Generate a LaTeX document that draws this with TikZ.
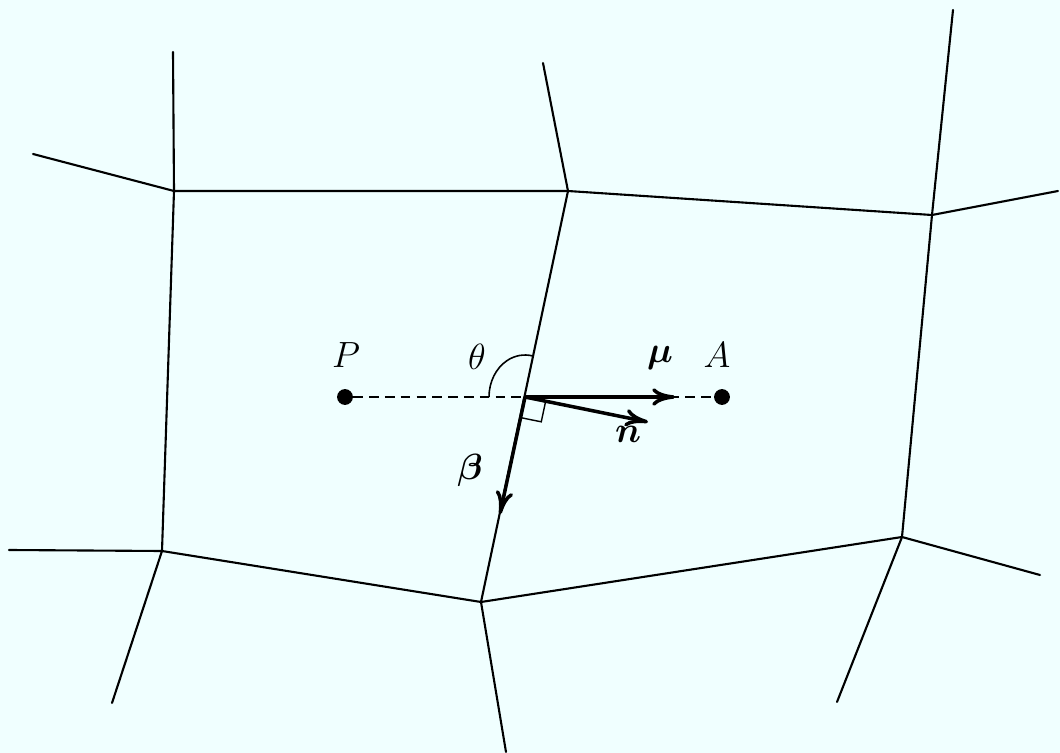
\documentclass[tikz,border=0pt]{standalone}
\usepackage{amssymb}
\usepackage{amsmath}
\usepackage{bm}
\usepackage{xcolor}
\usepackage{tikz}
\usetikzlibrary{arrows.meta,calc}
\definecolor{paper}{RGB}{240,255,255}

\tikzset{
  cellline/.style={line width=1.2pt, line cap=round, line join=round},
  vecarrow/.style={line width=2pt, -{To[length=13pt,width=10pt]}},
  centre/.style={circle, fill=black, inner sep=0pt, minimum size=9pt},
  lbl/.style={inner sep=1pt, font=\huge}
}

\begin{document}
\begin{tikzpicture}[x=0.2mm, y=-0.2mm]
  \fill[paper] (0,0) rectangle (1060,753);
  \useasboundingbox (0,0) rectangle (1060,753);

  % cell vertices
  \coordinate (tl) at (174,191);
  \coordinate (tc) at (568,191);
  \coordinate (tr) at (932,215);
  \coordinate (br) at (902,537);
  \coordinate (bc) at (481,602);
  \coordinate (bl) at (162,551);

  % cell edges
  \draw[cellline] (tl) -- (tc) -- (tr) -- (br) -- (bc) -- (bl) -- cycle;
  \draw[cellline] (tc) -- (bc);

  % edges towards neighbouring cells
  \draw[cellline] (tl) -- (173,52);
  \draw[cellline] (tl) -- (33,154);
  \draw[cellline] (tc) -- (543,63);
  \draw[cellline] (tr) -- (953,10);
  \draw[cellline] (tr) -- (1058,191);
  \draw[cellline] (br) -- (1040,575);
  \draw[cellline] (br) -- (837,702);
  \draw[cellline] (bc) -- (506,752);
  \draw[cellline] (bl) -- (9,550);
  \draw[cellline] (bl) -- (112,703);

  % cell centres
  \node[centre] (P) at (345,397) {};
  \node[centre] (A) at (722,397) {};
  \node[lbl] (Plbl) at (346,355) {$P$};
  \node[lbl] (Albl) at (717,355) {$A$};

  \coordinate (f) at (525,397);
  \draw[line width=0.8pt, dash pattern=on 5.5pt off 3.5pt] (P) -- (A);

  % vectors on the face
  \coordinate (mutip) at (675,397);
  \coordinate (ntip) at (648,422);
  \coordinate (betatip) at (500,514);
  \draw[vecarrow] (f) -- (mutip);
  \draw[vecarrow] (f) -- (ntip);
  \draw[vecarrow] (f) -- (betatip);
  \node[lbl] (mulbl) at (660,358) {$\boldsymbol{\mu}$};
  \node[lbl] (nlbl) at (628,434) {$\boldsymbol{n}$};
  \node[lbl] (betalbl) at (470,470) {$\boldsymbol{\beta}$};

  % angle and right-angle marks
  \draw[line width=0.9pt] ($(f)+(-36,0)$) arc[start angle=180, end angle=282, x radius=36, y radius=42];
  \node[lbl] (thetalbl) at (477,357) {$\theta$};
  \draw[line width=0.8pt] ($(f)!12pt!(betatip)$) -- ($(f)!12pt!(betatip)+(f)!12pt!(ntip)-(f)$) -- ($(f)!12pt!(ntip)$);
\end{tikzpicture}
\end{document}
